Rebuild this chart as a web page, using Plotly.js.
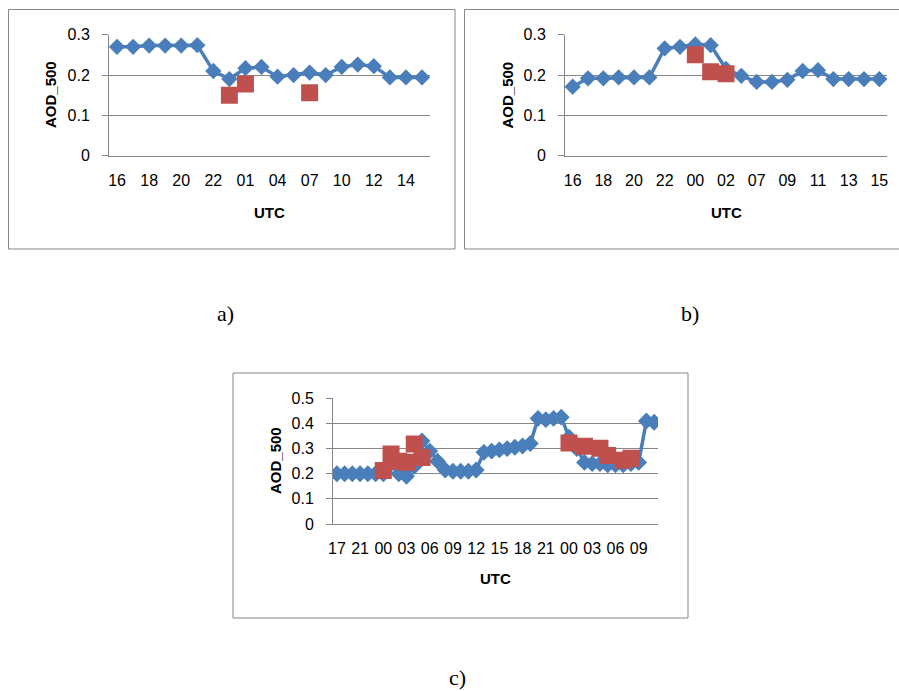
<!DOCTYPE html>
<html>
<head>
<meta charset="utf-8">
<script src="https://cdn.plot.ly/plotly-3.0.1.min.js"></script>
<style>
html,body{margin:0;padding:0;background:#fff;}
#chart{width:899px;height:691px;}
</style>
</head>
<body>
<div id="chart"></div>
<script>
// ---------- data ----------
const labelsA = ['16','17','18','19','20','21','22','23','01','02','04','05','07','08','10','11','12','13','14','15'];
const aodA = [0.27,0.27,0.273,0.273,0.273,0.274,0.21,0.19,0.217,0.22,0.196,0.2,0.206,0.2,0.22,0.226,0.222,0.194,0.194,0.194];
const aodA2 = [null,null,null,null,null,null,null,0.15,0.178,null,null,null,0.156,null,null,null,null,null,null,null];

const labelsB = ['16','17','18','19','20','21','22','23','00','01','02','05','07','08','09','10','11','12','13','14','15'];
const aodB = [0.171,0.192,0.192,0.194,0.194,0.194,0.266,0.27,0.276,0.274,0.215,0.198,0.183,0.183,0.188,0.21,0.212,0.19,0.19,0.19,0.19];
const aodB2 = [null,null,null,null,null,null,null,null,0.25,0.208,0.203,null,null,null,null,null,null,null,null,null,null];

const labelsC = ['17','18','20','21','22','23','00','01','02','03','04','05','06','07','08','09','10','11','12','13','14',
                 '15','16','17','18','19','20','21','22','23','00','01','02','03','04','05','06','07','08','09','10','11'];
const aodC = [0.2,0.2,0.2,0.2,0.2,0.2,0.2,0.24,0.2,0.19,0.23,0.33,0.29,0.25,
              0.215,0.21,0.21,0.21,0.215,
              0.285,0.29,0.295,0.3,0.305,0.31,0.32,
              0.42,0.415,0.42,0.425,
              0.345,0.3,
              0.245,0.24,0.24,0.235,0.235,0.235,0.24,0.245,
              0.41,0.405];
const aodC2 = [null,null,null,null,null,null,0.213,0.278,0.25,0.246,0.318,0.265,null,null,null,null,null,null,null,null,null,
               null,null,null,null,null,null,null,null,null,0.322,null,0.309,null,0.301,0.272,null,0.254,0.262,null,null,null];

const yTitle = 'AOD_500';
const xTitle = 'UTC';
const captions = ['a)','b)','c)'];

// ---------- helpers ----------
const W = 899, H = 691;
const px = x => x / W;
const py = y => 1 - y / H;
const idx = arr => arr.map((_, i) => i);

const BLUE = '#4A7EBB';
const RED = '#C0504D';
const GRID = '#868686';
const tickFont = {family: 'Liberation Sans, Arial, sans-serif', size: 16, color: '#000'};

function blue(labels, vals, xa, ya, msize) {
  return {x: idx(labels), y: vals, xaxis: xa, yaxis: ya, type: 'scatter', mode: 'lines+markers',
    line: {color: BLUE, width: 3.5}, marker: {symbol: 'diamond', size: msize, color: BLUE},
    showlegend: false, hoverinfo: 'x+y'};
}
function red(labels, vals, xa, ya) {
  return {x: idx(labels), y: vals, xaxis: xa, yaxis: ya, type: 'scatter', mode: 'markers',
    marker: {symbol: 'square', size: 17, color: RED}, showlegend: false, hoverinfo: 'x+y'};
}
function xaxisDef(labels, step, dom, anchor) {
  const tv = idx(labels).filter(i => i % step === 0);
  return {domain: dom, anchor: anchor, range: [-0.5, labels.length - 0.5],
    tickmode: 'array', tickvals: tv, ticktext: tv.map(i => labels[i]), tickangle: 0,
    showgrid: false, zeroline: false, showline: true, linecolor: GRID, linewidth: 1,
    ticks: '', tickfont: tickFont, ticklabelstandoff: 10, fixedrange: true};
}
function yaxisDef(max, dom, anchor) {
  return {domain: dom, anchor: anchor, range: [0, max], dtick: 0.1, tick0: 0,
    showgrid: true, gridcolor: GRID, gridwidth: 1, zeroline: false,
    showline: true, linecolor: GRID, linewidth: 1, ticks: 'outside', ticklen: 6, tickcolor: GRID,
    tickfont: tickFont, ticklabelstandoff: 9, fixedrange: true};
}

const data = [
  blue(labelsA, aodA, 'x', 'y', 12.5), red(labelsA, aodA2, 'x', 'y'),
  blue(labelsB, aodB, 'x2', 'y2', 12.5), red(labelsB, aodB2, 'x2', 'y2'),
  blue(labelsC, aodC, 'x3', 'y3', 13), red(labelsC, aodC2, 'x3', 'y3')
];

const titleFont = {family: 'Liberation Sans, Arial, sans-serif', size: 15, color: '#000', weight: 'bold'};
const capFont = {family: 'Liberation Serif, Times New Roman, serif', size: 22, color: '#000'};

function ann(text, x, y, font, angle) {
  return {text: text, xref: 'paper', yref: 'paper', x: px(x), y: py(y), xanchor: 'center', yanchor: 'middle',
    showarrow: false, font: font, textangle: angle || 0};
}
function box(x0, y0, x1, y1) {
  return {type: 'rect', xref: 'paper', yref: 'paper', x0: px(x0), x1: px(x1), y0: py(y0), y1: py(y1),
    line: {color: GRID, width: 1}, fillcolor: 'rgba(0,0,0,0)', layer: 'below'};
}

const layout = {
  width: W, height: H, margin: {l: 0, r: 0, t: 0, b: 0},
  paper_bgcolor: '#fff', plot_bgcolor: 'rgba(0,0,0,0)',
  xaxis: xaxisDef(labelsA, 2, [px(109), px(430)], 'y'),
  yaxis: yaxisDef(0.3, [py(155.7), py(34.7)], 'x'),
  xaxis2: xaxisDef(labelsB, 2, [px(565), px(887)], 'y2'),
  yaxis2: yaxisDef(0.3, [py(155.7), py(34.7)], 'x2'),
  xaxis3: xaxisDef(labelsC, 3, [px(333), px(658)], 'y3'),
  yaxis3: yaxisDef(0.5, [py(524), py(398.3)], 'x3'),
  shapes: [box(8.5, 9.5, 455, 249), box(464.5, 9.5, 912, 249), box(233, 373, 688, 618)],
  annotations: [
    ann(yTitle, 50, 95, titleFont, -90), ann(xTitle, 269.5, 212, titleFont),
    ann(yTitle, 506.5, 95, titleFont, -90), ann(xTitle, 726, 212, titleFont),
    ann(yTitle, 275, 461, titleFont, -90), ann(xTitle, 495.5, 578, titleFont),
    ann(captions[0], 225, 313, capFont), ann(captions[1], 690, 313, capFont), ann(captions[2], 457, 677, capFont)
  ]
};

Plotly.newPlot('chart', data, layout, {displayModeBar: false, staticPlot: true});
</script>
</body>
</html>
